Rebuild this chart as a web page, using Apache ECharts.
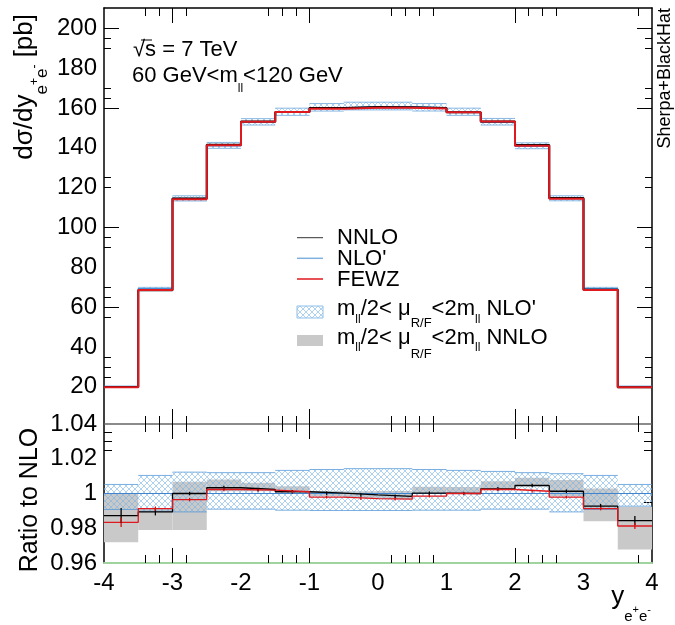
<!DOCTYPE html>
<html><head><meta charset="utf-8">
<script src="https://cdn.jsdelivr.net/npm/echarts@6/dist/echarts.min.js"></script>
<style>html,body{margin:0;padding:0;background:#fff}#c{width:675px;height:625px}</style>
</head><body><div id="c"></div>
<script>
// ---- data ----
const binEdges = [-4,-3.5,-3,-2.5,-2,-1.5,-1,-0.5,0,0.5,1,1.5,2,2.5,3,3.5,4];
const nloPrime = [20.1,69.2,114.5,141.0,152.8,157.8,160.0,160.6,160.6,160.0,157.8,152.8,140.8,114.6,69.2,20.1];
const nnlo     = [19.84,68.47,114.5,141.47,153.15,157.96,160.03,160.47,160.34,160.03,157.8,153.21,141.45,114.75,68.69,19.79];
const fewz     = [19.77,68.6,114.1,141.32,153.09,157.96,159.66,160.12,160.09,159.76,157.8,153.15,140.98,114.36,68.6,19.72];
const ratioNLO  = [1,1,1,1,1,1,1,1,1,1,1,1,1,1,1,1];
const ratioNNLO = [0.9873,0.9894,1.000,1.0033,1.0023,1.001,1.0002,0.9992,0.9984,1.0002,1.000,1.0027,1.0046,1.0013,0.9927,0.9844];
const ratioFEWZ = [0.9834,0.9913,0.9965,1.0023,1.0019,1.001,0.9979,0.997,0.9968,0.9985,1.000,1.0023,1.0013,0.9979,0.9913,0.9813];
const errNNLO = [0.0043,0.002,0.001,0.0012,0.001,0.001,0.001,0.001,0.001,0.001,0.001,0.001,0.001,0.001,0.0013,0.0026];
const errFEWZ = [0.0027,0.0012,0.001,0.001,0.0008,0.0008,0.0008,0.0008,0.0008,0.0008,0.0008,0.0008,0.0008,0.0008,0.001,0.0017];
const nloBandLo = [0.9908,0.9898,0.9894,0.991,0.991,0.9904,0.9902,0.9902,0.9902,0.9904,0.9904,0.991,0.991,0.9894,0.9908,0.9927];
const nloBandHi = [1.0052,1.0104,1.0123,1.012,1.012,1.0133,1.0138,1.0143,1.0143,1.0138,1.0133,1.0127,1.012,1.0114,1.0104,1.0052];
const nnloBandLo = [0.972,0.979,0.979,1.0013,1.0013,1.001,0.9985,0.9975,0.9968,1.0004,1.0002,1.0023,1.0042,0.9985,0.984,0.9677];
const nnloBandHi = [1.000,0.9915,1.0068,1.0081,1.0062,1.0042,1.0015,1.0013,1.0015,1.0039,1.0038,1.0071,1.009,1.0077,1.0029,0.9923];
const xTickLabels = [-4,-3,-2,-1,0,1,2,3,4];
const yTickLabels = [20,40,60,80,100,120,140,160,180,200];
const ratioTickLabels = [0.96,0.98,1,1.02,1.04];
const xMajorTicks = [-3,-1,2];
const xMinorTicks = [-3.4,-3.2,-2.8,-1.6,-1.4,-1.2,0.2,0.4,0.6,0.8,2.2,2.4,2.6,3.8];
const yMajorTicks = [200,160,100,60];
const yMinorTicks = [195,190,170,165,125,120,95,90,70,65,55,35,30,25];
const ratioMinorTicks = [1.035,1.03,1.025,0.995,0.99,0.985];

const FF = 'Liberation Sans, Arial, Helvetica, sans-serif';

function makeHatch(){
  const c = document.createElement('canvas'); c.width = 6; c.height = 6;
  const g = c.getContext('2d');
  g.strokeStyle = 'rgba(120,178,230,0.6)'; g.lineWidth = 1;
  g.beginPath();
  g.moveTo(-1,-1); g.lineTo(7,7);
  g.moveTo(-1,7); g.lineTo(7,-1);
  g.stroke();
  return c;
}
const hatchFill = {image: makeHatch(), repeat: 'repeat'};

function stepData(vals){
  return binEdges.map((x,i)=>[x, vals[Math.min(i, vals.length-1)]]);
}
function bandSeries(xi, yi, lo, hi, fill, edgeColor, z){
  return {
    type:'custom', xAxisIndex:xi, yAxisIndex:yi, silent:true, z:z, clip:true,
    data: lo.map((l,i)=>[binEdges[i], binEdges[i+1], l, hi[i]]),
    encode:{x:[0,1], y:[2,3]},
    renderItem(params, api){
      const p0 = api.coord([api.value(0), api.value(3)]);
      const p1 = api.coord([api.value(1), api.value(2)]);
      const ch = [{type:'rect', shape:{x:p0[0], y:p0[1], width:p1[0]-p0[0], height:p1[1]-p0[1]}, style:{fill:fill}}];
      if (edgeColor){
        ch.push({type:'line', shape:{x1:p0[0], y1:p0[1], x2:p1[0], y2:p0[1]}, style:{stroke:edgeColor, lineWidth:1}});
        ch.push({type:'line', shape:{x1:p0[0], y1:p1[1], x2:p1[0], y2:p1[1]}, style:{stroke:edgeColor, lineWidth:1}});
      }
      return {type:'group', children:ch};
    }
  };
}
function stepSeries(name, xi, yi, vals, color, width, z){
  return {name:name, type:'line', xAxisIndex:xi, yAxisIndex:yi, step:'end', symbol:'none', z:z,
    data: stepData(vals), lineStyle:{color:color, width:width}, itemStyle:{color:color}, silent:true};
}
function errSeries(xi, yi, vals, errs, color, z){
  return {
    type:'custom', xAxisIndex:xi, yAxisIndex:yi, silent:true, z:z,
    data: vals.map((v,i)=>[(binEdges[i]+binEdges[i+1])/2, v-errs[i], v+errs[i]]),
    encode:{x:0, y:[1,2]},
    renderItem(params, api){
      const a = api.coord([api.value(0), api.value(1)]);
      const b = api.coord([api.value(0), api.value(2)]);
      return {type:'line', shape:{x1:a[0], y1:a[1], x2:b[0], y2:b[1]}, style:{stroke:color, lineWidth:1.3}};
    }
  };
}

const tickStyle = {color:'#000', width:1};
function xAx(grid, pos, ticks, len, line, labels){
  return {
    gridIndex:grid, type:'value', min:-4, max:4, position:pos,
    axisLine: line ? {show:true, onZero:false, lineStyle:line} : {show:false, onZero:false},
    axisTick:{show:true, inside:true, length:len, customValues:ticks, lineStyle:tickStyle},
    axisLabel: labels ? {show:true, customValues:labels, margin:8, color:'#000', fontSize:24, fontFamily:FF} : {show:false},
    splitLine:{show:false}, minorTick:{show:false}
  };
}
function yAx(grid, pos, min, max, ticks, len, line, labels, fmt){
  return {
    gridIndex:grid, type:'value', min:min, max:max, position:pos,
    axisLine: line ? {show:true, onZero:false, lineStyle:line} : {show:false, onZero:false},
    axisTick:{show:true, inside:true, length:len, customValues:ticks, lineStyle:tickStyle},
    axisLabel: labels ? {show:true, customValues:labels, margin:7, color:'#000', fontSize:24, fontFamily:FF, formatter:fmt} : {show:false},
    splitLine:{show:false}, minorTick:{show:false}
  };
}
const blackLine = {color:'#000', width:1.5};
const ratioFmt = v => (Math.abs(v-1) < 1e-9 ? '1' : v.toFixed(2));

const xAxes = [
  xAx(0,'bottom', xMajorTicks, 15, null, null),        // 0
  xAx(0,'bottom', xMinorTicks, 8, null, null),         // 1
  xAx(0,'top', xMajorTicks, 15, blackLine, null),      // 2
  xAx(0,'top', xMinorTicks, 8, null, null),            // 3
  xAx(1,'bottom', xMajorTicks, 15, {color:'#9fd49f', width:2}, xTickLabels), // 4
  xAx(1,'bottom', xMinorTicks, 8, null, null),         // 5
  xAx(1,'top', xMajorTicks, 15, {color:'#666', width:1.5}, null), // 6
  xAx(1,'top', xMinorTicks, 8, null, null)             // 7
];
const yAxes = [
  yAx(0,'left', 1.3, 210.2, yMajorTicks, 15, blackLine, yTickLabels, v=>String(v)), // 0
  yAx(0,'left', 1.3, 210.2, yMinorTicks, 7, null, null),     // 1
  yAx(0,'right', 1.3, 210.2, yMajorTicks, 15, blackLine, null), // 2
  yAx(0,'right', 1.3, 210.2, yMinorTicks, 7, null, null),    // 3
  yAx(1,'left', 0.96, 1.04, ratioMinorTicks, 8, blackLine, ratioTickLabels, ratioFmt), // 4
  yAx(1,'right', 0.96, 1.04, ratioMinorTicks, 8, blackLine, null) // 5
];

const topLo = nloPrime.map((v,i)=>v*nloBandLo[i]);
const topHi = nloPrime.map((v,i)=>v*nloBandHi[i]);

const series = [
  bandSeries(0,0, topLo, topHi, hatchFill, 'rgba(90,155,215,0.7)', 1),
  stepSeries("NLO'", 0,0, nloPrime, '#4a8fd4', 1.5, 2),
  stepSeries('NNLO', 0,0, nnlo, '#000', 2, 3),
  stepSeries('FEWZ', 0,0, fewz, '#e0191f', 2, 4),

  bandSeries(4,4, nnloBandLo, nnloBandHi, '#c9c9c9', null, 1),
  bandSeries(4,4, nloBandLo, nloBandHi, hatchFill, 'rgba(80,150,215,0.75)', 2),
  stepSeries("NLO' ratio", 4,4, ratioNLO, '#3f84cc', 1.2, 3),
  stepSeries('NNLO ratio', 4,4, ratioNNLO, '#000', 1.3, 4),
  stepSeries('FEWZ ratio', 4,4, ratioFEWZ, '#e0191f', 1.3, 5),
  errSeries(4,4, ratioNNLO, errNNLO, '#000', 6),
  errSeries(4,4, ratioFEWZ, errFEWZ, '#d01010', 6)
];

const mainRich = {fontSize:22, lineHeight:24, verticalAlign:'top', fontFamily:FF, fill:'#000'};
const graphics = [
  // y title (top panel)
  {type:'text', x:12, y:14, rotation:Math.PI/2, silent:true, style:{
    text:'{m|dσ/dy}{s|e}{p|+}{s|e}{p|-}{m| [pb]}', align:'right', verticalAlign:'top',
    textAlign:'right', textVerticalAlign:'top', fill:'#000',
    rich:{
      m:{fontSize:26, lineHeight:28, verticalAlign:'top', fontFamily:FF, fill:'#000'},
      s:{fontSize:17, lineHeight:17, padding:[22,0,0,0], verticalAlign:'top', fontFamily:FF, fill:'#000'},
      p:{fontSize:12, lineHeight:12, padding:[17,0,0,0], verticalAlign:'top', fontFamily:FF, fill:'#000'}
    }}},
  // ratio title
  {type:'text', x:30, y:500, rotation:Math.PI/2, silent:true, style:{
    text:'Ratio to NLO', fontSize:25, fontFamily:FF, fill:'#000', align:'center', verticalAlign:'middle',
    textAlign:'center', textVerticalAlign:'middle'}},
  // Sherpa+BlackHat
  {type:'text', x:665, y:8, rotation:Math.PI/2, silent:true, style:{
    text:'Sherpa+BlackHat', fontSize:18, fontFamily:FF, fill:'#000', align:'right', verticalAlign:'middle',
    textAlign:'right', textVerticalAlign:'middle'}},
  // sqrt(s)
  {type:'text', x:133, y:50, silent:true, style:{
    text:'√s = 7 TeV', fontSize:22, fontFamily:FF, fill:'#000', align:'left', verticalAlign:'middle',
    textAlign:'left', textVerticalAlign:'middle'}},
  {type:'line', silent:true, shape:{x1:141, y1:40, x2:152, y2:40}, style:{stroke:'#000', lineWidth:1}},
  // mass window
  {type:'text', x:132, y:65.3, silent:true, style:{
    text:'{m|60 GeV<m}{l|ll}{m|<120 GeV}', align:'left', verticalAlign:'top', textAlign:'left', textVerticalAlign:'top',
    rich:{ m:mainRich, l:{fontSize:12, lineHeight:12, padding:[17,0,0,0], verticalAlign:'top', fontFamily:FF, fill:'#000'} }}},
  // legend lines
  {type:'line', silent:true, shape:{x1:297, y1:237.7, x2:323, y2:237.7}, style:{stroke:'#333', lineWidth:1}},
  {type:'line', silent:true, shape:{x1:297, y1:258.3, x2:323, y2:258.3}, style:{stroke:'#7fb0e0', lineWidth:1.5}},
  {type:'line', silent:true, shape:{x1:297, y1:279, x2:323, y2:279}, style:{stroke:'#e0191f', lineWidth:1.5}},
  {type:'text', x:337, y:237.5, silent:true, style:{text:'NNLO', fontSize:22, fontFamily:FF, fill:'#000', align:'left', verticalAlign:'middle', textAlign:'left', textVerticalAlign:'middle'}},
  {type:'text', x:337, y:259, silent:true, style:{text:"NLO'", fontSize:22, fontFamily:FF, fill:'#000', align:'left', verticalAlign:'middle', textAlign:'left', textVerticalAlign:'middle'}},
  {type:'text', x:337, y:280, silent:true, style:{text:'FEWZ', fontSize:22, fontFamily:FF, fill:'#000', align:'left', verticalAlign:'middle', textAlign:'left', textVerticalAlign:'middle'}},
  {type:'rect', silent:true, shape:{x:297, y:306, width:26, height:12}, style:{fill:hatchFill, stroke:'#8fbfe8', lineWidth:1}},
  {type:'rect', silent:true, shape:{x:297, y:335, width:26, height:11}, style:{fill:'#c9c9c9'}},
  {type:'text', x:337, y:298.3, silent:true, style:{
    text:"{m|m}{l|ll}{m|/2< μ}{s|R/F}{m|<2m}{l|ll}{m| NLO'}", align:'left', verticalAlign:'top', textAlign:'left', textVerticalAlign:'top',
    rich:{ m:mainRich,
      l:{fontSize:12, lineHeight:12, padding:[15,0,0,0], verticalAlign:'top', fontFamily:FF, fill:'#000'},
      s:{fontSize:13, lineHeight:13, padding:[19,0,0,0], verticalAlign:'top', fontFamily:FF, fill:'#000'} }}},
  {type:'text', x:337, y:327, silent:true, style:{
    text:"{m|m}{l|ll}{m|/2< μ}{s|R/F}{m|<2m}{l|ll}{m| NNLO}", align:'left', verticalAlign:'top', textAlign:'left', textVerticalAlign:'top',
    rich:{ m:mainRich,
      l:{fontSize:12, lineHeight:12, padding:[15,0,0,0], verticalAlign:'top', fontFamily:FF, fill:'#000'},
      s:{fontSize:13, lineHeight:13, padding:[21,0,0,0], verticalAlign:'top', fontFamily:FF, fill:'#000'} }}},
  // x axis title
  {type:'text', x:651, y:583.5, silent:true, style:{
    text:'{m|y}{s|e}{p|+}{s|e}{p|-}', align:'right', verticalAlign:'top', textAlign:'right', textVerticalAlign:'top',
    rich:{
      m:{fontSize:26, lineHeight:28, verticalAlign:'top', fontFamily:FF, fill:'#000'},
      s:{fontSize:15, lineHeight:15, padding:[26,0,0,0], verticalAlign:'top', fontFamily:FF, fill:'#000'},
      p:{fontSize:11, lineHeight:11, padding:[21,0,0,0], verticalAlign:'top', fontFamily:FF, fill:'#000'}
    }}}
];

const chart = echarts.init(document.getElementById('c'), null, {renderer:'canvas'});
chart.setOption({
  animation:false,
  backgroundColor:'#fff',
  grid:[
    {left:104, top:8, width:548, height:416},
    {left:104, top:424, width:548, height:139}
  ],
  xAxis: xAxes,
  yAxis: yAxes,
  series: series,
  graphic: graphics
});
</script>
</body></html>
